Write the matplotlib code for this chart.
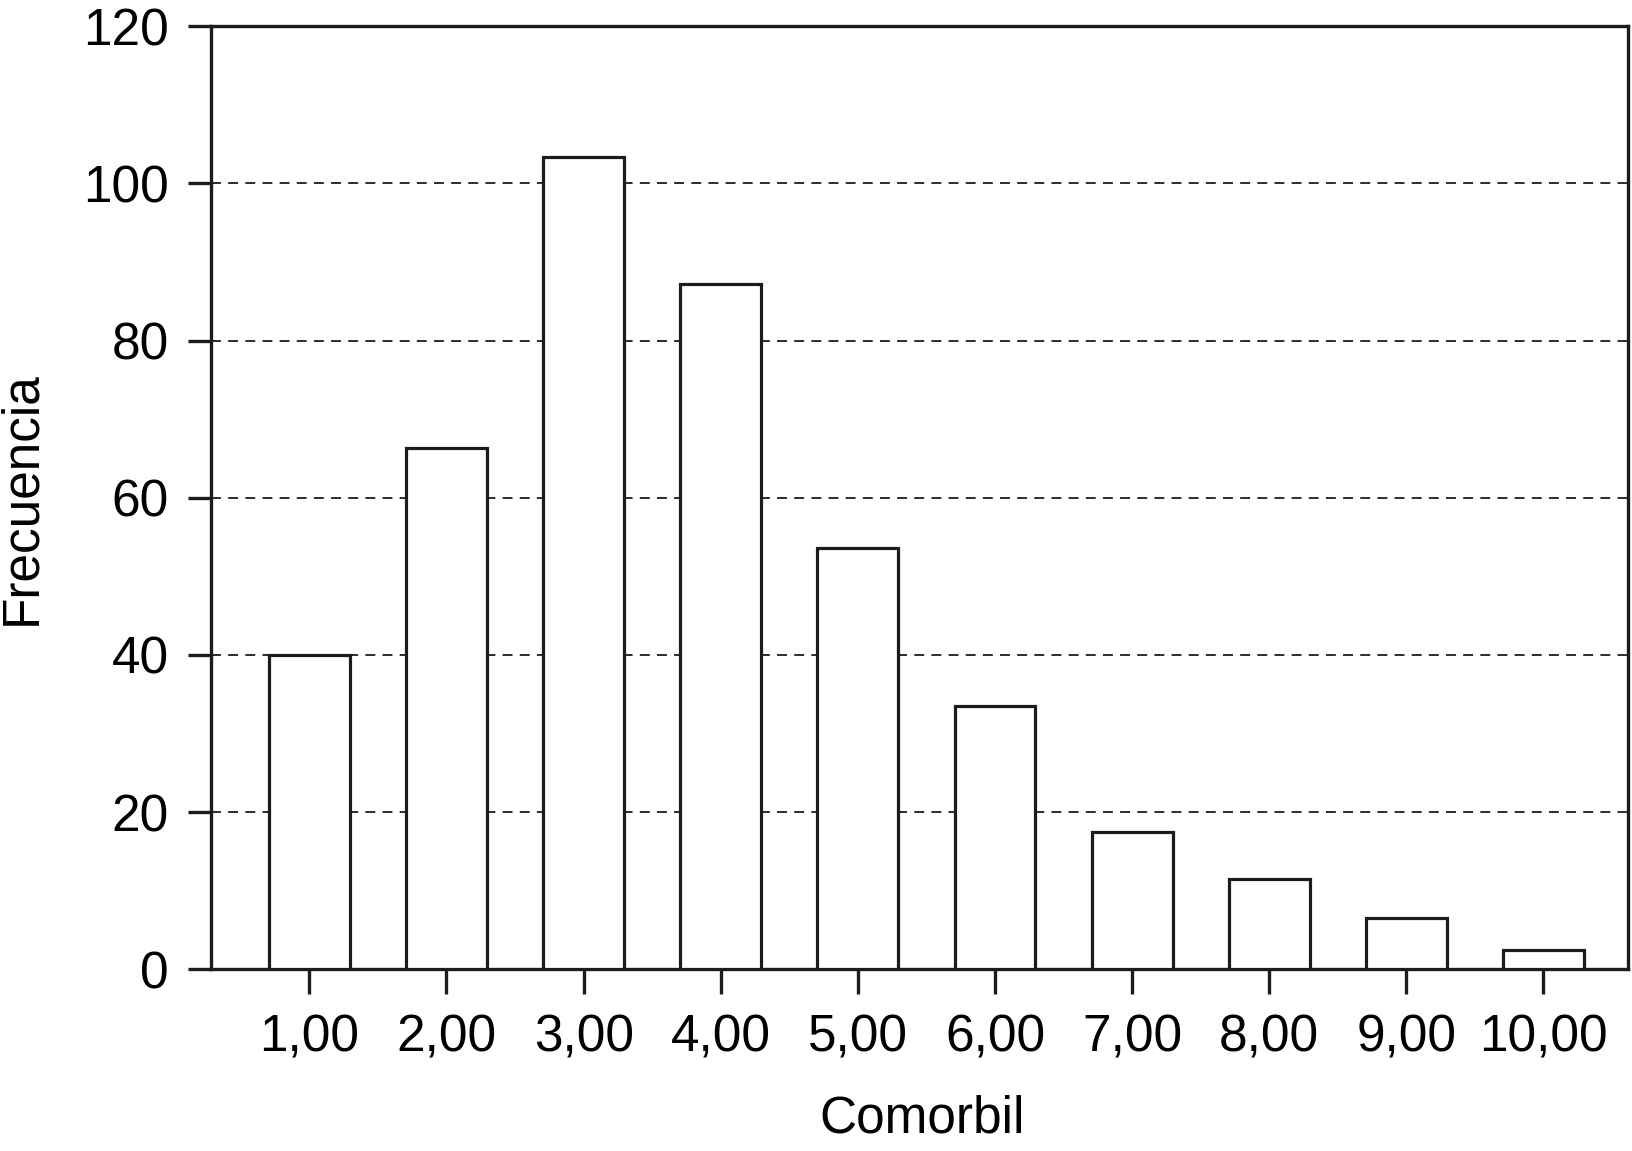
import matplotlib
matplotlib.use("Agg")
from matplotlib import pyplot as plt

# datos
comorbil = [1, 2, 3, 4, 5, 6, 7, 8, 9, 10]
etiquetas = ["1,00", "2,00", "3,00", "4,00", "5,00", "6,00", "7,00", "8,00", "9,00", "10,00"]
frecuencia = [40, 66.3, 103.3, 87.2, 53.6, 33.5, 17.5, 11.5, 6.5, 2.5]
yticks = [0, 20, 40, 60, 80, 100, 120]

plt.rcParams['font.family'] = ['Liberation Sans', 'DejaVu Sans']
color = "#1c1c1c"

fig = plt.figure(figsize=(16.33, 11.51), dpi=100)
ax = fig.add_axes([0.1295, 0.1577, 0.8673, 0.8197])

ax.bar(comorbil, frecuencia, width=0.59, color="white", edgecolor=color, linewidth=2.3, zorder=3)

# lineas de rejilla punteadas
ax.set_axisbelow(True)
ax.yaxis.grid(True, linestyle=(0, (5.5, 4)), color=color, linewidth=1.3)

ax.set_xlim(0.286, 10.615)
ax.set_ylim(0, 120)
ax.set_xticks(comorbil)
ax.set_xticklabels(etiquetas)
ax.set_yticks(yticks)

for s in ax.spines.values():
    s.set_linewidth(2.4)
    s.set_color(color)

ax.tick_params(axis="y", direction="out", length=16.5, width=2.4, color=color, pad=14, labelsize=37)
ax.tick_params(axis="x", direction="out", length=18, width=2.4, color=color, pad=14, labelsize=37)

ax.set_ylabel("Frecuencia", fontsize=37)
ax.set_xlabel("Comorbil", fontsize=37)
ax.yaxis.set_label_coords(-0.117, 0.5)
ax.xaxis.set_label_coords(0.5015, -0.133)

fig.savefig("out.png", dpi=100)
